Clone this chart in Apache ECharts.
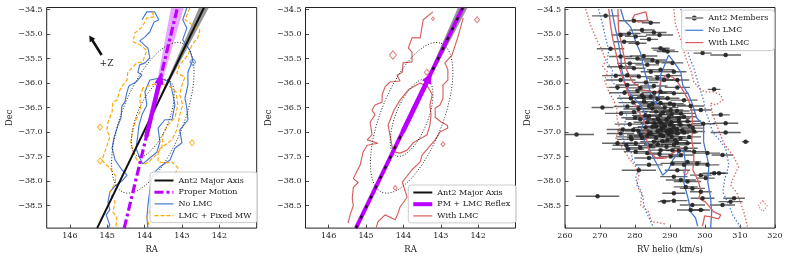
<!DOCTYPE html>
<html><head><meta charset="utf-8">
<script src="https://cdn.jsdelivr.net/npm/echarts@6/dist/echarts.min.js"></script>
<style>html,body{margin:0;padding:0;background:#fff}#c{width:789px;height:259px}</style>
</head><body><div id="c"></div>
<script>
// ---------- tick labels ----------
const decTicks = [-38.5, -38, -37.5, -37, -36.5, -36, -35.5, -35, -34.5];
const raTicks = [146, 145, 144, 143, 142];
const rvTicks = [260, 270, 280, 290, 300, 310, 320];

// ---------- panel 1 & 2 lines (RA, Dec) ----------
const majorAxis = [[145.27, -38.96], [142.41, -34.46]];
const majorAxisBand = [[143.77, -36.6], [142.54, -34.46], [142.28, -34.46]];
const pmLine = [[144.545, -38.96], [143.12, -34.46]];
const pmBand = [[143.92, -37.0], [143.29, -34.46], [142.95, -34.46]];
const pmArrow = [[143.956, -37.1], [143.538, -35.78]];
const reflexArrow = [[144.02, -37.0], [143.24, -35.77]];
const zArrow = [[145.15, -35.43], [145.48, -35.03]];
const zLabel = [145.02, -35.60];

// dotted ellipses: centre and semi-axis vectors (dRA, dDec)
const ellipseCenter = [143.78, -36.71];
const ellipseOuterAxes = [[-0.79, 1.52], [-0.77, -0.235]];
const ellipseInnerAxes = [[-0.41, 0.78], [-0.40, -0.12]];

// ---------- panel 1 contours ----------
const noLmcLeft = [[144.07,-34.71],[143.94,-34.55],[143.73,-34.55],[143.62,-34.71],[143.75,-34.76],[143.86,-34.96],[143.99,-35.06],[144.13,-35.14],[143.91,-35.29],[143.86,-35.49],[143.99,-35.59],[144.13,-35.63],[144.18,-35.78],[144.07,-35.84],[144.23,-35.98],[144.42,-36.06],[144.47,-36.18],[144.53,-36.39],[144.61,-36.47],[144.63,-36.71],[144.71,-36.86],[144.82,-37.12],[144.87,-37.33],[144.79,-37.57],[144.61,-37.77],[144.47,-37.88],[144.61,-38.00],[144.79,-38.10],[144.93,-38.22],[144.98,-38.43],[144.93,-38.59],[145.03,-38.69],[144.93,-38.90],[144.98,-38.96]];
const noLmcRight = [[142.87,-34.47],[142.98,-34.71],[142.87,-34.88],[142.98,-35.12],[142.79,-35.33],[142.71,-35.53],[142.84,-35.78],[142.84,-36.04],[142.92,-36.31],[142.87,-36.51],[142.84,-36.75],[143.06,-36.96],[143.00,-37.22],[143.19,-37.33],[143.32,-37.57],[143.59,-37.71],[143.73,-37.82],[143.81,-37.94],[143.86,-38.18],[143.91,-38.49],[143.94,-38.75],[143.91,-38.96]];
const noLmcInner = [[143.86,-35.94],[143.99,-36.18],[143.94,-36.45],[144.07,-36.65],[144.15,-36.86],[144.18,-37.06],[144.23,-37.33],[144.13,-37.53],[144.05,-37.65],[143.86,-37.53],[143.67,-37.41],[143.59,-37.20],[143.64,-36.92],[143.46,-36.75],[143.27,-36.75],[143.19,-36.45],[143.24,-36.24],[143.32,-35.98],[143.59,-35.90],[143.86,-35.94]];
const noLmcBlobs = [[142.71, -35.57, 6]];
const fixedMwLeft = [[143.81,-34.55],[143.73,-34.65],[143.94,-34.67],[144.07,-34.86],[144.26,-34.98],[144.31,-35.16],[144.13,-35.22],[143.94,-35.33],[144.05,-35.57],[144.21,-35.59],[144.31,-35.67],[144.45,-35.78],[144.47,-35.94],[144.58,-36.04],[144.66,-36.14],[144.74,-36.35],[144.85,-36.39],[144.87,-36.59],[144.98,-36.80],[145.01,-36.96],[144.93,-37.10],[145.03,-37.33],[145.14,-37.57],[145.06,-37.65],[144.93,-37.73],[144.77,-37.90],[144.79,-38.04],[144.93,-38.24],[144.79,-38.43],[144.85,-38.63],[144.74,-38.75],[144.77,-38.96]];
const fixedMwRight = [[142.79,-34.47],[142.92,-34.71],[142.71,-34.82],[142.52,-34.92],[142.58,-35.08],[142.73,-35.22],[142.84,-35.43],[143.06,-35.63],[143.14,-35.80],[142.92,-35.88],[143.00,-36.04],[143.06,-36.24],[142.98,-36.45],[143.06,-36.65],[143.14,-36.96],[143.27,-37.16],[143.64,-37.37],[143.64,-37.61],[143.40,-37.63],[143.27,-37.61],[143.11,-37.73],[143.32,-38.08],[143.73,-38.39],[143.94,-38.75],[143.86,-38.96]];
const fixedMwInner = [[144.05,-36.10],[144.13,-36.31],[144.10,-36.55],[144.23,-36.75],[144.31,-36.96],[144.37,-37.20],[144.31,-37.41],[144.18,-37.61],[143.97,-37.65],[143.86,-37.59],[143.70,-37.47],[143.54,-37.33],[143.51,-37.06],[143.38,-36.86],[143.19,-36.71],[143.11,-36.45],[143.16,-36.18],[143.38,-36.04],[143.73,-36.02],[144.05,-36.10]];
const fixedMwBlobs = [[145.19, -36.90, 5], [145.19, -37.59, 5], [142.73, -37.22, 5]];

// ---------- panel 2 contours ----------
const withLmcLeft = [[143.21,-34.55],[143.47,-34.71],[143.55,-35.08],[143.77,-35.08],[143.87,-35.29],[143.77,-35.37],[143.77,-35.57],[144.01,-35.59],[144.03,-35.78],[144.17,-35.84],[144.09,-35.96],[144.36,-35.98],[144.49,-36.08],[144.57,-36.24],[144.57,-36.39],[144.76,-36.45],[144.84,-36.55],[144.76,-36.65],[144.89,-36.80],[144.84,-37.06],[144.97,-37.16],[144.68,-37.23],[144.97,-37.27],[145.08,-37.41],[145.16,-37.68],[145.34,-37.95],[145.21,-38.03],[145.34,-38.13],[145.37,-38.36],[145.34,-38.50],[145.43,-38.70],[145.48,-38.86]];
const withLmcRight = [[142.40,-34.67],[142.54,-35.06],[142.70,-35.43],[142.89,-35.59],[142.81,-35.73],[142.81,-35.94],[142.94,-36.04],[142.94,-36.31],[143.02,-36.45],[143.15,-36.51],[143.15,-36.70],[142.98,-36.80],[142.83,-36.86],[142.81,-36.92],[143.02,-37.00],[143.15,-37.16],[143.50,-37.47],[143.55,-37.61],[143.77,-37.77],[144.03,-38.02],[143.98,-38.14],[143.90,-38.33],[144.09,-38.53],[144.14,-38.65],[144.22,-38.79],[144.49,-38.69],[144.68,-38.83],[144.73,-38.95]];
const withLmcInner = [[143.55,-36.00],[143.87,-36.14],[144.09,-36.35],[144.25,-36.55],[144.36,-36.76],[144.41,-36.86],[144.36,-37.06],[144.30,-37.31],[144.22,-37.41],[144.09,-37.43],[143.90,-37.37],[143.74,-37.22],[143.37,-37.06],[143.29,-36.86],[143.26,-36.65],[143.29,-36.45],[143.23,-36.24],[143.34,-36.08],[143.55,-36.00]];
const withLmcBlobs = [[144.28,-35.43,7],[143.21,-34.69,3],[142.03,-34.71,5],[143.37,-35.78,5],[142.94,-37.25,4],[144.22,-38.14,4]];

// ---------- panel 3 contours (RV, Dec) ----------
const noLmcRvSolidL = [[273.3,-34.49],[274.2,-34.82],[275.1,-35.12],[275.9,-35.43],[276.2,-35.73],[277.3,-36.04],[278.8,-36.24],[281.6,-36.45],[283.1,-36.65],[281.9,-36.92],[281.6,-37.06],[283.9,-37.31],[285.3,-37.53],[286.8,-37.73],[287.9,-37.88],[289.6,-37.77],[290.8,-37.57],[292.5,-37.41],[293.9,-37.37],[294.5,-37.67],[293.9,-38.02],[295.3,-38.39],[295.9,-38.63],[297.3,-38.75],[297.9,-38.92]];
const noLmcRvSolidR = [[275.9,-34.49],[276.8,-34.71],[278.8,-34.86],[280.2,-35.16],[281.6,-35.39],[282.5,-35.69],[283.6,-35.98],[284.5,-36.24],[285.9,-36.45],[287.3,-36.14],[287.3,-35.84],[289.6,-35.43],[291.1,-35.57],[293.1,-35.78],[293.6,-36.04],[295.3,-36.24],[296.5,-36.45],[297.6,-36.71],[299.6,-36.86],[299.6,-37.20],[301.1,-37.67],[300.8,-38.02],[301.6,-38.35],[301.9,-38.65],[301.6,-38.96]];
const noLmcRvDotL = [[269.6,-34.49],[270.8,-34.82],[271.6,-35.08],[272.5,-35.33],[271.9,-35.57],[273.6,-35.73],[273.3,-35.94],[274.8,-36.10],[275.9,-36.31],[276.8,-36.45],[277.6,-36.65],[276.8,-36.92],[276.5,-37.16],[278.8,-37.37],[279.3,-37.57],[281.1,-37.73],[280.2,-37.94],[280.8,-38.08],[282.2,-38.28],[282.5,-38.49],[283.6,-38.69],[285.1,-38.92]];
const noLmcRvDotR = [[293.1,-34.49],[293.9,-34.82],[294.8,-35.12],[295.3,-35.43],[296.8,-35.69],[298.2,-36.04],[299.6,-36.35],[300.2,-36.59],[301.1,-36.75],[302.2,-37.00],[304.5,-37.20],[305.9,-37.33],[306.8,-37.67],[305.6,-37.98],[305.1,-38.22],[306.8,-38.49],[307.9,-38.69],[309.6,-38.88],[310.2,-38.96]];
const withLmcRvSolidA = [[272.5,-34.49],[273.0,-34.82],[273.6,-35.08],[274.5,-35.37],[275.3,-35.63],[276.5,-35.90],[278.2,-36.24],[280.2,-36.45],[281.6,-36.65],[283.1,-36.86],[283.1,-37.06],[283.9,-37.37],[285.9,-37.53],[288.8,-37.53],[290.8,-37.43],[293.1,-37.33]];
const withLmcRvSolidB = [[275.1,-34.49],[275.3,-34.92],[276.5,-35.33],[277.6,-35.73],[279.3,-35.98],[282.2,-36.14],[285.1,-36.18],[286.8,-36.18],[287.3,-35.98],[288.8,-35.84],[290.8,-35.88],[292.2,-35.98],[293.6,-36.14],[295.3,-36.35],[296.2,-36.55],[296.5,-36.86],[296.2,-37.16],[296.8,-37.41],[296.8,-37.61],[296.5,-37.77],[298.2,-38.02],[298.8,-38.22],[298.2,-38.35],[300.2,-38.43],[302.5,-38.63],[304.5,-38.69],[303.9,-38.77],[301.6,-38.73],[299.9,-38.71],[299.3,-38.92]];
const withLmcRvLoop = [[279.1,-34.71],[279.9,-34.61],[283.1,-34.55],[283.6,-34.71],[281.1,-34.76],[279.1,-34.71]];
const withLmcRvDotL = [[265.9,-34.49],[267.3,-34.82],[268.8,-35.08],[270.2,-35.27],[271.6,-35.53],[270.8,-35.67],[272.2,-35.78],[271.3,-35.94],[272.5,-36.18],[273.9,-36.35],[274.8,-36.51],[274.8,-36.71],[275.6,-36.92],[274.5,-37.12],[276.5,-37.33],[278.2,-37.53],[280.2,-37.71],[281.1,-37.88],[280.5,-38.08],[281.9,-38.28],[281.6,-38.49],[283.9,-38.63],[284.8,-38.84],[286.2,-38.84],[288.8,-38.88]];
const withLmcRvDotR = [[291.1,-34.49],[291.6,-34.82],[293.1,-35.12],[294.5,-35.49],[295.9,-35.73],[296.8,-35.98],[298.8,-36.14],[300.2,-36.18],[302.2,-36.18],[304.5,-36.24],[305.1,-36.35],[303.1,-36.45],[301.6,-36.41],[302.2,-36.65],[303.9,-36.96],[305.3,-37.22],[308.2,-37.51],[309.6,-37.71],[308.2,-37.92],[307.3,-38.08],[309.1,-38.24],[310.2,-38.45],[311.1,-38.63],[311.9,-38.86],[312.2,-38.96]];
const withLmcRvBlobs = [[294.5,-37.82,5]];
const withLmcRvDotBlobs = [[316.5,-38.51,9]];

// ---------- Ant2 members ----------
const memberRv = [271.6,279.7,284.5,278.3,285.4,275.9,280.2,284.0,276.9,280.7,287.3,288.3,289.3,299.3,305.9,275.9,280.7,285.0,286.4,290.7,283.5,275.9,279.7,287.3,284.5,291.1,277.8,281.1,286.4,275.9,288.3,292.1,283.1,277.8,285.4,292.1,302.6,275.0,280.7,287.3,291.1,284.5,278.8,289.3,294.0,282.6,287.3,291.1,295.9,270.7,277.8,285.0,290.2,279.7,293.1,298.8,304.5,287.3,
284.0,289.7,292.5,281.5,287.0,295.0,290.5,285.5,278.5,293.0,288.5,291.0,283.0,296.5,287.5,290.0,293.5,281.0,289.0,286.0,299.5,276.5,
263.3,275.9,278.8,281.6,284.0,287.3,289.7,292.1,294.0,296.9,305.9,275.0,280.2,285.4,289.3,291.1,295.0,311.6,280.2,283.5,287.3,290.7,296.9,300.7,305.0,290.2,293.1,295.0,284.0,281.1,290.7,294.0,297.8,300.7,302.6,304.0,291.1,293.1,295.0,298.8,300.2,292.1,294.5,291.1,298.8,296.4,269.3,288.3,291.1,299.3,308.3,307.3,305.0,296.4,295.9,298.8,305.9,
283.5,286.0,290.5,293.0,279.0,287.8,292.0,284.5,289.0,281.5,294.5,277.5,288.0,285.0,282.0,
282.5,286.5,279.5,290.0,284.0,288.5,281.0,292.0,286.0,276.0,290.5,283.0,294.0,280.0,286.5,289.0,292.5,283.5,287.5,290.0,295.5,285.0,288.0,292.0,279.5,286.5,290.5,284.5,288.0,295.5,282.0,291.5,286.5,278.0,292.5,287.0,284.0,277.0,274.5,273.0,282.0,287.0,282.5,278.5,289.5,281.5,285.5];
const memberDec = [-34.63,-34.73,-34.77,-34.99,-34.97,-35.02,-35.05,-35.11,-35.16,-35.19,-35.29,-35.33,-35.36,-35.39,-35.43,-35.46,-35.50,-35.53,-35.57,-35.59,-35.63,-35.67,-35.70,-35.73,-35.77,-35.77,-35.84,-35.87,-35.90,-35.94,-35.94,-35.94,-35.99,-36.04,-36.06,-36.09,-36.13,-36.09,-36.16,-36.18,-36.21,-36.28,-36.31,-36.31,-36.35,-36.38,-36.41,-36.45,-36.47,-36.50,-36.48,-36.52,-36.55,-36.59,-36.62,-36.55,-36.65,-36.65,
-36.68,-36.70,-36.72,-36.74,-36.77,-36.78,-36.80,-36.82,-36.84,-36.85,-36.87,-36.90,-36.91,-36.92,-36.94,-36.96,-36.97,-36.98,-36.99,-36.88,-36.83,-36.95,
-37.05,-37.03,-37.10,-37.06,-37.03,-37.06,-37.04,-37.03,-37.01,-36.99,-37.01,-37.23,-37.23,-37.20,-37.16,-37.26,-37.23,-37.20,-37.40,-37.43,-37.37,-37.37,-37.40,-37.43,-37.47,-37.50,-37.47,-37.61,-37.67,-37.78,-37.64,-37.67,-37.64,-37.67,-37.84,-37.84,-37.91,-37.98,-38.01,-37.88,-37.94,-37.78,-38.12,-38.25,-38.22,-38.15,-38.31,-38.42,-38.40,-38.35,-38.35,-38.42,-38.49,-38.49,-38.59,-38.59,-36.82,
-37.08,-37.12,-37.10,-37.13,-37.15,-37.19,-37.22,-37.28,-37.30,-37.32,-37.33,-37.27,-36.60,-36.43,-36.25,
-36.30,-36.33,-36.40,-36.42,-36.47,-36.50,-36.53,-36.57,-36.58,-36.62,-36.64,-36.66,-36.69,-36.71,-36.73,-36.75,-36.79,-36.80,-36.82,-36.85,-36.87,-36.89,-36.92,-36.94,-36.96,-36.98,-37.00,-37.02,-37.08,-37.10,-37.12,-37.17,-37.25,-37.35,-37.38,-37.45,-37.53,-36.20,-35.85,-35.30,-34.92,-35.02,-35.45,-35.60,-35.85,-36.10,-36.20];
const memberErr = [3.9,4.3,2.6,3.3,3.6,2.6,3.1,2.6,3.1,2.6,2.6,3.1,3.1,2.6,4.4,3.3,3.8,3.8,3.8,3.1,3.4,3.9,3.3,3.9,2.9,3.6,3.4,3.9,3.3,4.2,4.3,3.4,3.6,3.3,3.9,3.6,1.8,2.6,3.9,3.3,4.2,3.9,3.9,3.4,3.9,3.6,4.3,3.4,3.9,3.1,3.9,3.9,3.6,3.9,4.3,3.1,2.6,3.4,
3.6,3.9,3.3,4.2,3.4,3.9,2.9,3.9,4.3,3.5,3.1,3.9,3.6,3.3,4.2,3.3,3.6,3.9,3.4,2.9,3.4,4.6,
5.0,3.9,4.2,3.9,3.4,3.4,3.1,3.3,3.9,3.1,4.3,4.4,3.9,3.9,3.3,3.6,3.9,1.0,3.4,3.9,3.6,3.9,3.4,3.6,3.1,3.4,3.6,3.9,3.9,4.9,3.4,3.9,3.1,3.4,3.3,2.6,3.9,4.3,3.9,3.1,2.6,3.6,3.4,3.3,3.1,3.6,6.2,1.8,3.9,3.4,3.1,3.4,3.6,3.6,3.9,2.6,3.6,
3.9,3.6,3.9,3.4,4.2,3.3,3.9,3.6,3.9,4.3,3.4,3.9,3.9,3.6,3.9,
3.9,3.6,4.2,3.9,3.4,3.9,4.3,3.6,3.9,4.6,3.4,3.9,3.6,3.9,3.3,4.2,3.6,3.9,3.4,3.9,3.6,4.2,3.6,3.9,4.6,3.4,3.9,3.6,3.9,3.4,4.3,3.6,3.9,4.6,3.6,3.9,4.2,4.4,3.9,3.9,3.6,3.9,3.9,3.6,3.9,3.9,3.6];

// ---------- styling ----------
const FONT = 'DejaVu Serif';
const TXT = '#222';
const BLUE = '#4878d0', RED = '#d65f5f', ORANGE = '#ffa500', MAG = '#bb00ff';

function ellipsePts(c, ax) {
  const pts = [];
  for (let i = 0; i <= 120; i++) {
    const t = i / 120 * 2 * Math.PI;
    pts.push([c[0] + ax[0][0] * Math.cos(t) + ax[1][0] * Math.sin(t),
              c[1] + ax[0][1] * Math.cos(t) + ax[1][1] * Math.sin(t)]);
  }
  return pts;
}
function lineS(name, data, xi, color, width, type, z) {
  const s = { type: 'line', xAxisIndex: xi, yAxisIndex: xi, data: data, symbol: 'none', silent: true,
    animation: false, clip: true, z: z || 2,
    lineStyle: { color: color, width: width, type: type || 'solid', cap: 'butt' }, itemStyle: { color: color } };
  if (name) s.name = name;
  return s;
}
function polyS(pts, xi, color, opacity) {
  return { type: 'custom', xAxisIndex: xi, yAxisIndex: xi, silent: true, animation: false, clip: true, data: [0],
    renderItem: (p, api) => ({ type: 'polygon', shape: { points: pts.map(q => api.coord(q)) },
      style: { fill: color, opacity: opacity } }) };
}
function arrowShape(api, seg, w, hw, hl) {
  const a = api.coord(seg[0]), b = api.coord(seg[1]);
  const dx = b[0] - a[0], dy = b[1] - a[1], L = Math.hypot(dx, dy);
  const ux = dx / L, uy = dy / L, nx = -uy, ny = ux;
  const bx = b[0] - ux * hl, by = b[1] - uy * hl;
  return [[a[0] + nx * w, a[1] + ny * w], [bx + nx * w, by + ny * w], [bx + nx * hw, by + ny * hw], b,
    [bx - nx * hw, by - ny * hw], [bx - nx * w, by - ny * w], [a[0] - nx * w, a[1] - ny * w]];
}
function arrowS(seg, xi, color, w, hw, hl, label) {
  return { type: 'custom', xAxisIndex: xi, yAxisIndex: xi, silent: true, animation: false, clip: false, data: [0], z: 5,
    renderItem: (p, api) => {
      const ch = [{ type: 'polygon', shape: { points: arrowShape(api, seg, w, hw, hl) }, style: { fill: color } }];
      if (label) {
        const c = api.coord(label.pos);
        ch.push({ type: 'text', x: c[0], y: c[1], style: { text: label.text, fill: TXT, font: '9px "DejaVu Serif"', align: 'center', verticalAlign: 'middle' } });
      }
      return { type: 'group', children: ch };
    } };
}
function blobS(data, xi, color, dotted) {
  return { type: 'scatter', xAxisIndex: xi, yAxisIndex: xi, data: data, symbol: 'diamond', silent: true, animation: false,
    symbolSize: v => [v[2], v[2] * 1.2],
    itemStyle: { color: 'rgba(0,0,0,0)', borderColor: color, borderWidth: 1, borderType: dotted ? [1.5, 1.5] : 'solid' } };
}

const members = memberRv.map((v, i) => [v, memberDec[i], memberErr[i]]);

const series = [];
// ----- panel 1 -----
series.push(polyS(majorAxisBand, 0, '#7a7a7a', 0.8));
series.push(polyS(pmBand, 0, MAG, 0.35));
series.push(lineS('No LMC', noLmcLeft, 0, BLUE, 1.15));
series.push(lineS('No LMC', noLmcRight, 0, BLUE, 1.15));
series.push(lineS('No LMC', noLmcInner, 0, BLUE, 1.15));
series.push(blobS(noLmcBlobs, 0, BLUE, false));
series.push(lineS('LMC + Fixed MW', fixedMwLeft, 0, ORANGE, 1.15, [4, 2]));
series.push(lineS('LMC + Fixed MW', fixedMwRight, 0, ORANGE, 1.15, [4, 2]));
series.push(lineS('LMC + Fixed MW', fixedMwInner, 0, ORANGE, 1.15, [4, 2]));
series.push(blobS(fixedMwBlobs, 0, ORANGE, false));
series.push(lineS(null, ellipsePts(ellipseCenter, ellipseOuterAxes), 0, '#222', 1, [1, 1.8]));
series.push(lineS(null, ellipsePts(ellipseCenter, ellipseInnerAxes), 0, '#222', 1, [1, 1.8]));
series.push(lineS('Ant2 Major Axis', majorAxis, 0, '#111', 2));
series.push(lineS('Proper Motion', pmLine, 0, MAG, 3.2, [9, 3, 3, 3]));
series.push(arrowS(pmArrow, 0, MAG, 2.2, 4.5, 12));
series.push(arrowS(zArrow, 0, '#111', 1.3, 3.3, 6, { pos: zLabel, text: '+Z' }));
// ----- panel 2 -----
series.push(polyS(majorAxisBand, 1, '#7a7a7a', 0.8));
series.push(lineS('With LMC', withLmcLeft, 1, RED, 1.15));
series.push(lineS('With LMC', withLmcRight, 1, RED, 1.15));
series.push(lineS('With LMC', withLmcInner, 1, RED, 1.15));
series.push(blobS(withLmcBlobs, 1, RED, false));
series.push(lineS(null, ellipsePts(ellipseCenter, ellipseOuterAxes), 1, '#222', 1, [1, 1.8]));
series.push(lineS(null, ellipsePts(ellipseCenter, ellipseInnerAxes), 1, '#222', 1, [1, 1.8]));
series.push(lineS('PM + LMC Reflex', majorAxis, 1, MAG, 4));
series.push(lineS(null, majorAxis, 1, '#111', 2.2, [3, 8]));
series.push(arrowS(reflexArrow, 1, MAG, 2.4, 4.8, 12));
// ----- panel 3 -----
series.push({ type: 'custom', xAxisIndex: 2, yAxisIndex: 2, silent: true, animation: false, clip: true, data: members,
  encode: { x: 0, y: 1 },
  renderItem: (p, api) => {
    const rv = api.value(0), dec = api.value(1), e = api.value(2);
    const a = api.coord([rv - e, dec]), b = api.coord([rv + e, dec]);
    return { type: 'line', shape: { x1: a[0], y1: a[1], x2: b[0], y2: b[1] }, style: { stroke: 'rgba(35,35,35,0.7)', lineWidth: 1.4 } };
  } });
series.push({ type: 'scatter', name: 'Ant2 Members', xAxisIndex: 2, yAxisIndex: 2, silent: true, animation: false,
  data: members.map(m => [m[0], m[1]]), symbolSize: 4.5, itemStyle: { color: '#222', opacity: 0.9 } });
series.push(lineS('No LMC', noLmcRvDotL, 2, BLUE, 1.3, [1.4, 2]));
series.push(lineS('No LMC', noLmcRvDotR, 2, BLUE, 1.3, [1.4, 2]));
series.push(lineS('With LMC', withLmcRvDotL, 2, RED, 1.3, [1.4, 2]));
series.push(lineS('With LMC', withLmcRvDotR, 2, RED, 1.3, [1.4, 2]));
series.push(blobS(withLmcRvDotBlobs, 2, RED, true));
series.push(lineS('No LMC', noLmcRvSolidL, 2, BLUE, 1.3));
series.push(lineS('No LMC', noLmcRvSolidR, 2, BLUE, 1.3));
series.push(lineS('With LMC', withLmcRvSolidA, 2, RED, 1.3));
series.push(lineS('With LMC', withLmcRvSolidB, 2, RED, 1.3));
series.push(lineS('With LMC', withLmcRvLoop, 2, RED, 1.3));
series.push(blobS(withLmcRvBlobs, 2, RED, false));

const decFmt = v => (v < 0 ? '\u2212' : '') + Math.abs(v).toFixed(1);
function yAx(i) {
  return { gridIndex: i, type: 'value', min: -38.96, max: -34.46, name: 'Dec', nameLocation: 'middle', nameGap: 31,
    nameTextStyle: { fontSize: 8.5, fontFamily: FONT, color: TXT },
    axisLine: { show: false }, splitLine: { show: false },
    axisTick: { inside: true, length: 3.5, customValues: decTicks, lineStyle: { color: '#222', width: 0.8 } },
    axisLabel: { customValues: decTicks, formatter: decFmt, fontSize: 8, fontFamily: FONT, color: TXT, margin: 4 } };
}
function xAxRa(i) {
  return { gridIndex: i, type: 'value', inverse: true, min: 141.0, max: 146.62, name: 'RA', nameLocation: 'middle', nameGap: 13,
    nameTextStyle: { fontSize: 8.5, fontFamily: FONT, color: TXT },
    axisLine: { show: false }, splitLine: { show: false },
    axisTick: { inside: true, length: 3.5, customValues: raTicks, lineStyle: { color: '#222', width: 0.8 } },
    axisLabel: { customValues: raTicks, fontSize: 8, fontFamily: FONT, color: TXT, margin: 4 } };
}
const legBase = { orient: 'vertical', itemWidth: 19, itemHeight: 8, selectedMode: false,
  backgroundColor: 'rgba(255,255,255,0.85)', borderColor: '#cccccc', borderWidth: 1, borderRadius: 3,
  textStyle: { fontSize: 8, fontFamily: FONT, color: TXT } };
const noSym = { opacity: 0 };

const option = {
  animation: false,
  textStyle: { fontFamily: FONT },
  grid: [
    { left: 46.7, top: 7.5, width: 210, height: 220.8, show: true, borderColor: '#222', borderWidth: 1 },
    { left: 305.5, top: 7.5, width: 210, height: 220.8, show: true, borderColor: '#222', borderWidth: 1 },
    { left: 565, top: 7.5, width: 210, height: 220.8, show: true, borderColor: '#222', borderWidth: 1 }
  ],
  xAxis: [xAxRa(0), xAxRa(1), {
    gridIndex: 2, type: 'value', min: 260, max: 320, interval: 10, name: 'RV helio (km/s)', nameLocation: 'middle', nameGap: 13,
    nameTextStyle: { fontSize: 8.5, fontFamily: FONT, color: TXT },
    axisLine: { show: false }, splitLine: { show: false },
    axisTick: { inside: true, length: 3.5, lineStyle: { color: '#222', width: 0.8 } },
    axisLabel: { fontSize: 8, fontFamily: FONT, color: TXT, margin: 4 } }],
  yAxis: [yAx(0), yAx(1), yAx(2)],
  legend: [
    Object.assign({}, legBase, { left: 150, top: 172, itemGap: 3.7, padding: [4.5, 6, 3, 3],
      data: [
        { name: 'Ant2 Major Axis', itemStyle: noSym, lineStyle: { width: 2 } },
        { name: 'Proper Motion', itemStyle: noSym, lineStyle: { width: 3, type: [9, 3, 3, 3] } },
        { name: 'No LMC', itemStyle: noSym, lineStyle: { width: 1.2 } },
        { name: 'LMC + Fixed MW', itemStyle: noSym, lineStyle: { width: 1.2, type: [4, 2] } }] }),
    Object.assign({}, legBase, { left: 408.3, top: 185, itemGap: 3.7, padding: [3.5, 6, 3, 3],
      data: [
        { name: 'Ant2 Major Axis', itemStyle: noSym, lineStyle: { width: 2 } },
        { name: 'PM + LMC Reflex', itemStyle: noSym, lineStyle: { width: 4 } },
        { name: 'With LMC', itemStyle: noSym, lineStyle: { width: 1.2 } }] }),
    Object.assign({}, legBase, { left: 681.7, top: 10, itemGap: 4.3, itemWidth: 18, itemHeight: 5, padding: [4, 6, 4, 3],
      data: [
        { name: 'Ant2 Members', icon: 'path://M0,3.4L18,3.4L18,4.6L0,4.6Z M6.5,4a2.5,2.5 0 1 0 5,0a2.5,2.5 0 1 0 -5,0Z' },
        { name: 'No LMC', itemStyle: noSym, lineStyle: { width: 1.2 } },
        { name: 'With LMC', itemStyle: noSym, lineStyle: { width: 1.2 } }] })
  ],
  series: series
};
const chart = echarts.init(document.getElementById('c'), null, { renderer: 'canvas' });
chart.setOption(option);
</script></body></html>
